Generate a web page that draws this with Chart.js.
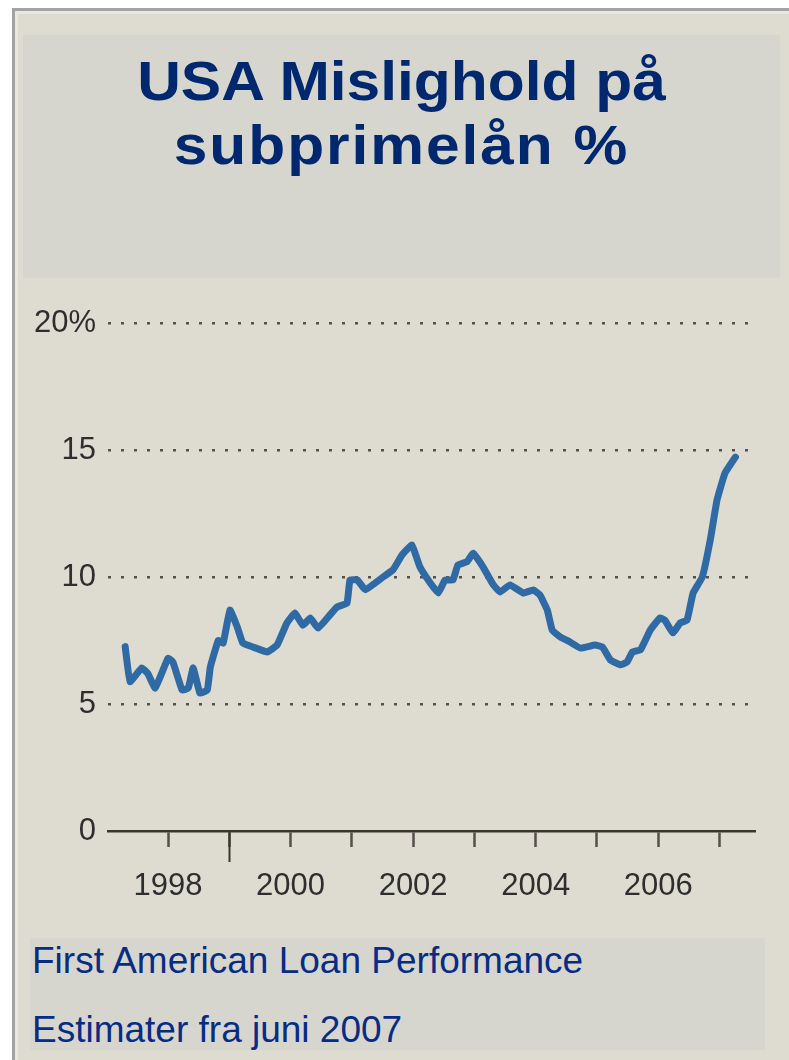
<!DOCTYPE html>
<html>
<head>
<meta charset="utf-8">
<script src="https://cdn.jsdelivr.net/npm/chart.js@4.4.1/dist/chart.umd.min.js"></script>
<style>
  html, body { margin: 0; padding: 0; background: #fff; }
  body { width: 789px; height: 1060px; position: relative; overflow: hidden; font-family: 'Liberation Sans', Arial, sans-serif; }
  #frame { position: absolute; left: 12px; top: 8px; width: 800px; height: 1070px;
           border-left: 3px solid #a3a3a3; border-top: 3px solid #a3a3a3;
           background: #dedcd1; box-shadow: inset 3px 3px 0 #e8e8e1; }
  #titlebox { position: absolute; left: 23px; top: 35px; width: 757px; height: 243px; background: #d6d6cf; }
  #title { position: absolute; left: 0; top: 14px; width: 757px; text-align: center;
           font-weight: bold; font-size: 56px; line-height: 64px; color: #00286f;
           transform: scaleX(1.08); transform-origin: center; }
  #title .l2 { letter-spacing: 1.8px; }
  #footbox { position: absolute; left: 30px; top: 938px; width: 735px; height: 112px; background: #d6d6cf; }
  .foot { position: absolute; left: 32px; font-size: 37px; line-height: 37px; color: #082c84; white-space: nowrap; }
  #chart { position: absolute; left: 0; top: 0; }
</style>
</head>
<body>
<div id="frame"></div>
<div id="titlebox"><div id="title">USA Mislighold på<br><span class="l2">subprimelån %</span></div></div>
<div id="footbox"></div>
<div class="foot" style="top:942px">First American Loan Performance</div>
<div class="foot" style="top:1011px">Estimater fra juni 2007</div>
<canvas id="chart" width="789" height="1060"></canvas>
<script>
// decimal years, with delinquency rate in %
const years = [
  1997.30, 1997.38, 1997.57, 1997.67, 1997.79, 1998.00, 1998.08, 1998.23, 1998.33, 1998.41,
  1998.52, 1998.64, 1998.69, 1998.82, 1998.90, 1999.01, 1999.13, 1999.22, 1999.39, 1999.62,
  1999.78, 1999.94, 2000.07, 2000.20, 2000.32, 2000.45, 2000.64, 2000.76, 2000.92, 2000.97,
  2001.09, 2001.22, 2001.51, 2001.67, 2001.82, 2001.98, 2002.11, 2002.28, 2002.41, 2002.52,
  2002.65, 2002.73, 2002.88, 2002.98, 2003.14, 2003.31, 2003.42, 2003.58, 2003.80, 2003.96,
  2004.07, 2004.19, 2004.27, 2004.40, 2004.56, 2004.73, 2004.97, 2005.09, 2005.22, 2005.38,
  2005.49, 2005.58, 2005.71, 2005.87, 2006.03, 2006.11, 2006.24, 2006.36, 2006.47, 2006.57,
  2006.72, 2006.85, 2006.96, 2007.09, 2007.26
];
const rates = [
  7.26, 5.88, 6.42, 6.20, 5.63, 6.80, 6.65, 5.55, 5.63, 6.42,
  5.43, 5.55, 6.45, 7.50, 7.40, 8.70, 8.03, 7.40, 7.24, 7.05,
  7.32, 8.19, 8.58, 8.10, 8.39, 7.99, 8.50, 8.82, 8.97, 9.88,
  9.88, 9.50, 10.00, 10.28, 10.87, 11.26, 10.40, 9.76, 9.37, 9.88,
  9.88, 10.47, 10.60, 10.94, 10.40, 9.69, 9.41, 9.69, 9.37, 9.49,
  9.29, 8.70, 7.91, 7.64, 7.44, 7.20, 7.32, 7.24, 6.73, 6.54,
  6.65, 7.05, 7.13, 7.91, 8.39, 8.30, 7.80, 8.19, 8.30, 9.37,
  10.00, 11.46, 13.03, 14.09, 14.72
];
const yTicks = [0, 5, 10, 15, 20];
const labelYears = [1998, 2000, 2002, 2004, 2006];
const longTickYear = 1999;

const axisFont = { family: "'Liberation Sans', Arial, sans-serif", size: 31 };

const longTick = {
  id: 'longTick',
  afterDraw(chart) {
    const x = chart.scales.x;
    const px = Math.round(x.getPixelForValue(longTickYear)) + 0.5;
    const c = chart.ctx;
    c.save();
    c.strokeStyle = '#3a362f';
    c.lineWidth = 2;
    c.beginPath();
    c.moveTo(px, x.top);
    c.lineTo(px, x.top + 31);
    c.stroke();
    c.restore();
  }
};

new Chart(document.getElementById('chart'), {
  type: 'line',
  data: {
    datasets: [{
      data: years.map((x, i) => ({ x, y: rates[i] })),
      borderColor: '#2f6aa5',
      borderWidth: 7,
      pointRadius: 0,
      tension: 0.1,
      borderJoinStyle: 'round',
      borderCapStyle: 'round',
      fill: false
    }]
  },
  options: {
    responsive: false,
    devicePixelRatio: 1,
    animation: false,
    layout: { padding: { left: 0, top: 323, right: 34, bottom: 149 } },
    plugins: { legend: { display: false }, tooltip: { enabled: false } },
    scales: {
      x: {
        type: 'linear',
        min: 1997.02,
        max: 2007.58,
        afterFit: s => { s.height = 80; },
        border: { display: true, color: '#3a362f', width: 2.5 },
        grid: { drawOnChartArea: false, drawTicks: true, tickLength: 16, tickColor: '#55514a', tickWidth: 2.5 },
        ticks: {
          stepSize: 1,
          includeBounds: false,
          autoSkip: false,
          maxRotation: 0,
          padding: 21,
          color: '#2e2e2e',
          font: axisFont,
          callback: v => labelYears.includes(v) ? String(v) : ''
        }
      },
      y: {
        min: 0,
        max: 20,
        afterFit: s => { s.width = 108; },
        afterBuildTicks: s => { s.ticks = yTicks.map(v => ({ value: v })); },
        border: { display: false, dash: [3, 10] },
        grid: {
          drawTicks: false,
          lineWidth: 2.5,
          color: c => c.tick && c.tick.value === 0 ? 'rgba(0,0,0,0)' : 'rgba(60,56,50,0.85)'
        },
        ticks: {
          padding: 12,
          color: '#2e2e2e',
          font: axisFont,
          callback: v => v === 20 ? '20%' : String(v)
        }
      }
    }
  },
  plugins: [longTick]
});
</script>
</body>
</html>
